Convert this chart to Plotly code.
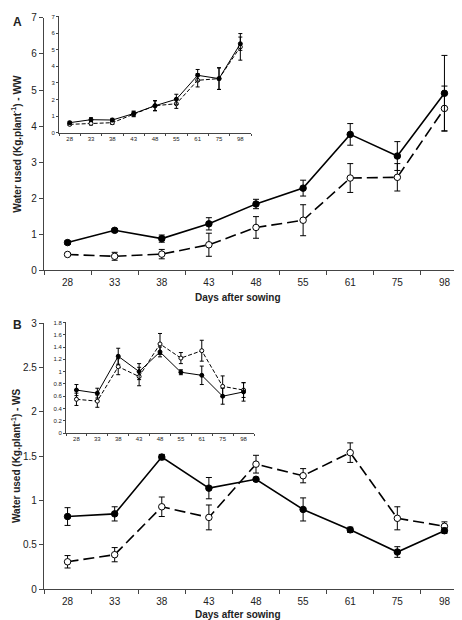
import plotly.graph_objects as go

days = ["28", "33", "38", "43", "48", "55", "61", "75", "98"]

# Panel A (WW) main
a_filled = [0.77, 1.11, 0.88, 1.29, 1.84, 2.28, 3.77, 3.17, 4.91]
a_filled_err = [0.05, 0.05, 0.10, 0.17, 0.13, 0.22, 0.30, 0.40, 1.05]
a_open = [0.44, 0.39, 0.45, 0.71, 1.19, 1.39, 2.56, 2.58, 4.49]
a_open_err = [0.03, 0.11, 0.13, 0.32, 0.30, 0.43, 0.40, 0.38, 0.62]

# Panel A inset
ai_filled = [0.61, 0.79, 0.77, 1.16, 1.63, 2.02, 3.46, 3.26, 5.36]
ai_filled_err = [0.08, 0.12, 0.10, 0.15, 0.30, 0.30, 0.35, 0.65, 0.40]
ai_open = [0.51, 0.57, 0.61, 1.12, 1.63, 1.75, 3.16, 3.26, 5.17]
ai_open_err = [0.06, 0.10, 0.10, 0.15, 0.30, 0.28, 0.40, 0.65, 0.80]

# Panel B (WS) main
b_filled = [0.82, 0.85, 1.49, 1.14, 1.24, 0.90, 0.67, 0.42, 0.66]
b_filled_err = [0.10, 0.08, 0.03, 0.12, 0.02, 0.13, 0.03, 0.06, 0.03]
b_open = [0.31, 0.39, 0.93, 0.81, 1.41, 1.28, 1.54, 0.80, 0.71]
b_open_err = [0.07, 0.08, 0.11, 0.14, 0.10, 0.08, 0.11, 0.13, 0.05]

# Panel B inset
bi_filled = [0.70, 0.65, 1.25, 1.00, 1.32, 0.99, 0.94, 0.60, 0.67]
bi_filled_err = [0.09, 0.08, 0.13, 0.13, 0.08, 0.04, 0.15, 0.13, 0.15]
bi_open = [0.55, 0.52, 1.08, 0.92, 1.45, 1.22, 1.34, 0.76, 0.70]
bi_open_err = [0.10, 0.10, 0.13, 0.15, 0.17, 0.09, 0.17, 0.17, 0.12]

FONT = "Arial, Liberation Sans, sans-serif"
INK = "#222222"

fig = go.Figure()


def add_pair(filled, ferr, opn, oerr, xa, ya, inset):
    msize = 4 if inset else 6.5
    lw = 1 if inset else 1.6
    cap = 2 if inset else 3
    dash = "4px,2px" if inset else "11px,5px"
    fig.add_trace(go.Scatter(
        x=days, y=opn, xaxis=xa, yaxis=ya, mode="lines+markers",
        line=dict(color="black", width=lw, dash=dash),
        marker=dict(symbol="circle", size=msize, color="white",
                    line=dict(color="black", width=1)),
        error_y=dict(type="data", array=oerr, visible=True,
                     color="black", thickness=1, width=cap),
        showlegend=False))
    fig.add_trace(go.Scatter(
        x=days, y=filled, xaxis=xa, yaxis=ya, mode="lines+markers",
        line=dict(color="black", width=lw),
        marker=dict(symbol="circle", size=msize, color="black",
                    line=dict(color="black", width=1)),
        error_y=dict(type="data", array=ferr, visible=True,
                     color="black", thickness=1, width=cap),
        showlegend=False))


add_pair(a_filled, a_filled_err, a_open, a_open_err, "x", "y", False)
add_pair(ai_filled, ai_filled_err, ai_open, ai_open_err, "x2", "y2", True)
add_pair(b_filled, b_filled_err, b_open, b_open_err, "x3", "y3", False)
add_pair(bi_filled, bi_filled_err, bi_open, bi_open_err, "x4", "y4", True)

W, H = 462, 620


def px_x(p):
    return p / W


def px_y(p):
    return 1 - p / H


main_x = dict(type="category", range=[-0.5, 8.5], showline=True,
              linecolor="#444", linewidth=1.2, ticks="outside",
              tickson="boundaries", ticklen=4, tickcolor="#444",
              ticklabelstandoff=3,
              showgrid=False, zeroline=False,
              tickfont=dict(family=FONT, size=10, color=INK))
main_y = dict(showline=True, linecolor="#444", linewidth=1.2,
              ticks="outside", ticklen=4, tickcolor="#444",
              showgrid=False, zeroline=False,
              tickfont=dict(family=FONT, size=10, color=INK))
ins_x = dict(type="category", range=[-0.5, 8.5], showline=True,
             linecolor="#444", linewidth=0.8, ticks="outside",
             tickson="boundaries", ticklen=2, tickcolor="#444",
             showgrid=False, zeroline=False,
             tickfont=dict(family=FONT, size=6, color=INK))
ins_y = dict(showline=True, linecolor="#444", linewidth=0.8,
             ticks="outside", ticklen=2, tickcolor="#444",
             showgrid=False, zeroline=False,
             tickfont=dict(family=FONT, size=6, color=INK))

fig.update_layout(
    width=W, height=H,
    margin=dict(l=0, r=0, t=0, b=0),
    paper_bgcolor="white", plot_bgcolor="rgba(0,0,0,0)",
    xaxis=dict(main_x, domain=[px_x(36), px_x(460)], anchor="y"),
    yaxis=dict(main_y, domain=[px_y(262), px_y(5)], anchor="x",
               range=[0, 7], dtick=1),
    xaxis2=dict(ins_x, domain=[px_x(51), px_x(243)], anchor="y2"),
    yaxis2=dict(ins_y, domain=[px_y(122), px_y(3.5)], anchor="x2",
                range=[0, 7], dtick=1),
    xaxis3=dict(main_x, domain=[px_x(36), px_x(460)], anchor="y3"),
    yaxis3=dict(main_y, domain=[px_y(586.7), px_y(315.7)], anchor="x3",
                range=[0, 3], dtick=0.5),
    xaxis4=dict(ins_x, domain=[px_x(58), px_x(246)], anchor="y4"),
    yaxis4=dict(ins_y, domain=[px_y(427.7), px_y(315)], anchor="x4",
                range=[0, 1.8], dtick=0.2),
)

ann = [
    dict(text="<b>A</b>", x=px_x(9), y=px_y(9), size=12),
    dict(text="<b>B</b>", x=px_x(9), y=px_y(318), size=12),
    dict(text="<b>Days after sowing</b>", x=px_x(230), y=px_y(290), size=10),
    dict(text="<b>Days after sowing</b>", x=px_x(230), y=px_y(612), size=10),
]
for a in ann:
    fig.add_annotation(xref="paper", yref="paper", x=a["x"], y=a["y"],
                       text=a["text"], showarrow=False,
                       xanchor="center", yanchor="middle",
                       font=dict(family=FONT, size=a["size"], color=INK))

for txt, yc in [("<b>Water used (Kg.plant<sup>-1</sup>) - WW</b>", 133),
                ("<b>Water used (Kg.plant<sup>-1</sup>) - WS</b>", 451)]:
    fig.add_annotation(xref="paper", yref="paper", x=px_x(8), y=px_y(yc),
                       text=txt, showarrow=False, textangle=-90,
                       xanchor="center", yanchor="middle",
                       font=dict(family=FONT, size=10, color=INK))

fig.write_html("out.html")
